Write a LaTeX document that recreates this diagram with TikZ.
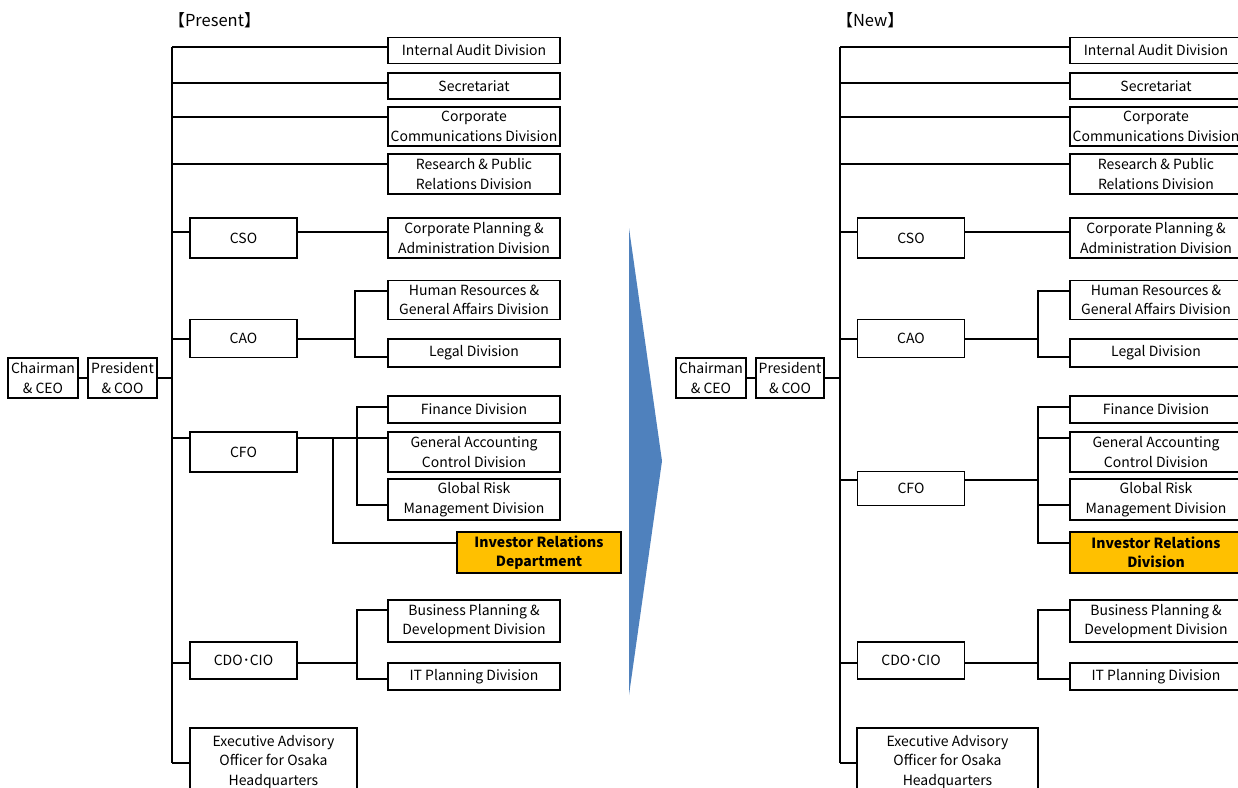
\documentclass[tikz,border=0pt]{standalone}
\usepackage{fontspec}
\setmainfont{Noto Sans CJK JP}
\usepackage{tikz}
\usetikzlibrary{positioning}
\definecolor{myblue}{RGB}{79,129,189}
\definecolor{myorange}{RGB}{255,192,0}

\begin{document}
\begin{tikzpicture}[x=1pt,y=-1pt,
    box/.style={draw,line width=1.3pt,align=center,inner sep=0pt,font=\fontsize{14}{19.5}\selectfont},
    divbox/.style={box,minimum width=172pt},
    headbox/.style={box,minimum width=107pt},
    irbox/.style={box,line width=2.2pt,fill=myorange,font=\fontsize{14}{19.5}\selectfont\bfseries},
    link/.style={line width=1.3pt}]
    \useasboundingbox (0,0) rectangle (1238,787);

    % Present
    \node[anchor=west,font=\fontsize{16.5}{19}\selectfont] (title_l) at (165,20) {【Present】};
    \node[box,minimum width=70pt,minimum height=40pt] (chair_l) at (43,378) {Chairman\\\& CEO};
    \node[box,minimum width=69pt,minimum height=40pt] (pres_l) at (122.5,378) {President\\\& COO};

    % staff divisions
    \node[divbox,minimum height=26pt] (ia_l) at (474,50.5) {Internal Audit Division};
    \node[divbox,minimum height=26pt] (sec_l) at (474,86) {Secretariat};
    \node[divbox,minimum height=39pt] (cc_l) at (474,126.5) {Corporate\\Communications Division};
    \node[divbox,minimum height=40pt] (rp_l) at (474,174) {Research \& Public\\Relations Division};

    % officers
    \node[headbox,minimum height=40pt] (cso_l) at (243.5,238) {CSO};
    \node[headbox,minimum height=38pt] (cao_l) at (243.5,338.5) {CAO};
    \node[headbox,minimum height=40pt] (cfo_l) at (243.5,452) {CFO};
    \node[headbox,minimum height=37pt] (cdo_l) at (243.5,660.5) {CDO･CIO};
    \node[box,minimum width=167pt,minimum height=68pt] (ea_l) at (273.5,762) {Executive Advisory\\Officer for Osaka\\Headquarters};

    % line divisions
    \node[divbox,minimum height=40pt] (cp_l) at (474,238) {Corporate Planning \&\\Administration Division};
    \node[divbox,minimum height=39pt] (hr_l) at (474,300) {Human Resources \&\\General Affairs Division};
    \node[divbox,minimum height=28pt] (legal_l) at (474,353) {Legal Division};
    \node[divbox,minimum height=27pt] (fin_l) at (474,409.5) {Finance Division};
    \node[divbox,minimum height=40pt] (ga_l) at (474,452) {General Accounting\\Control Division};
    \node[divbox,minimum height=41pt] (gr_l) at (474,499.5) {Global Risk\\Management Division};
    \node[irbox,minimum width=164pt,minimum height=41pt] (ir_l) at (539,552.5) {Investor Relations\\Department};
    \node[divbox,minimum height=42pt] (bp_l) at (474,621) {Business Planning \&\\Development Division};
    \node[divbox,minimum height=27pt] (it_l) at (474,676.5) {IT Planning Division};

    % trunk
    \foreach \n/\y in {ia/47,sec/83,cc/117,rp/164,cso/232,cao/339,cfo/438,cdo/663,ea/763}
        \coordinate (t_\n_l) at (172,\y);
    \draw[link] (t_ia_l) -- (t_ea_l);
    \draw[link] (chair_l) -- (pres_l);
    \draw[link] (pres_l.east) -- (pres_l.east -| t_ia_l);
    \foreach \n in {ia,sec,cc,rp,cso,cao,cfo,cdo,ea}
        \draw[link] (t_\n_l) -- (t_\n_l -| \n_l.west);

    % branches
    \coordinate (s_hr_l) at (355,291);
    \coordinate (s_legal_l) at (355,357);
    \coordinate (s_fin_l) at (357,407);
    \coordinate (s_gr_l) at (357,505);
    \coordinate (s_ir_l) at (333,543);
    \coordinate (s_bp_l) at (357,610);
    \coordinate (s_it_l) at (357,679);
    \draw[link] (t_cso_l -| cso_l.east) -- (t_cso_l -| cp_l.west);
    \draw[link] (t_cao_l -| cao_l.east) -- (t_cao_l -| s_hr_l);
    \draw[link] (s_hr_l -| hr_l.west) -- (s_hr_l) -- (s_legal_l) -- (s_legal_l -| legal_l.west);
    \draw[link] (t_cfo_l -| cfo_l.east) -- (t_cfo_l -| ga_l.west);
    \draw[link] (s_fin_l -| fin_l.west) -- (s_fin_l) -- (s_gr_l) -- (s_gr_l -| gr_l.west);
    \draw[link] (t_cfo_l -| s_ir_l) -- (s_ir_l) -- (s_ir_l -| ir_l.west);
    \draw[link] (t_cdo_l -| cdo_l.east) -- (t_cdo_l -| s_bp_l);
    \draw[link] (s_bp_l -| bp_l.west) -- (s_bp_l) -- (s_it_l) -- (s_it_l -| it_l.west);

    % Arrow
    \fill[myblue] (629,228) -- (662,461) -- (629,695) -- cycle;

    % New
    \node[anchor=west,font=\fontsize{16.5}{19}\selectfont] (title_r) at (833,20) {【New】};
    \node[box,minimum width=70pt,minimum height=40pt] (chair_r) at (711,378) {Chairman\\\& CEO};
    \node[box,minimum width=68pt,minimum height=40pt] (pres_r) at (790,378) {President\\\& COO};

    % staff divisions
    \node[divbox,minimum height=26pt] (ia_r) at (1156,50.5) {Internal Audit Division};
    \node[divbox,minimum height=26pt] (sec_r) at (1156,86) {Secretariat};
    \node[divbox,minimum height=39pt] (cc_r) at (1156,126.5) {Corporate\\Communications Division};
    \node[divbox,minimum height=40pt] (rp_r) at (1156,174) {Research \& Public\\Relations Division};

    % officers
    \node[headbox,minimum height=40pt] (cso_r) at (911,238) {CSO};
    \node[headbox,minimum height=38pt] (cao_r) at (911,338.5) {CAO};
    \node[headbox,minimum height=34pt] (cfo_r) at (911,488.5) {CFO};
    \node[headbox,minimum height=37pt] (cdo_r) at (911,660.5) {CDO･CIO};
    \node[box,minimum width=181pt,minimum height=68pt] (ea_r) at (947.5,762) {Executive Advisory\\Officer for Osaka\\Headquarters};

    % line divisions
    \node[divbox,minimum height=40pt] (cp_r) at (1156,238) {Corporate Planning \&\\Administration Division};
    \node[divbox,minimum height=39pt] (hr_r) at (1156,300) {Human Resources \&\\General Affairs Division};
    \node[divbox,minimum height=28pt] (legal_r) at (1156,353) {Legal Division};
    \node[divbox,minimum height=27pt] (fin_r) at (1156,409.5) {Finance Division};
    \node[divbox,minimum height=40pt] (ga_r) at (1156,452) {General Accounting\\Control Division};
    \node[divbox,minimum height=41pt] (gr_r) at (1156,499.5) {Global Risk\\Management Division};
    \node[irbox,minimum width=172pt,minimum height=41pt] (ir_r) at (1156,552.5) {Investor Relations\\Division};
    \node[divbox,minimum height=42pt] (bp_r) at (1156,621) {Business Planning \&\\Development Division};
    \node[divbox,minimum height=27pt] (it_r) at (1156,676.5) {IT Planning Division};

    % trunk
    \foreach \n/\y in {ia/47,sec/83,cc/117,rp/164,cso/232,cao/339,cfo/480,cdo/663,ea/763}
        \coordinate (t_\n_r) at (840,\y);
    \draw[link] (t_ia_r) -- (t_ea_r);
    \draw[link] (chair_r) -- (pres_r);
    \draw[link] (pres_r.east) -- (pres_r.east -| t_ia_r);
    \foreach \n in {ia,sec,cc,rp,cso,cao,cfo,cdo,ea}
        \draw[link] (t_\n_r) -- (t_\n_r -| \n_r.west);

    % branches
    \coordinate (s_hr_r) at (1038,291);
    \coordinate (s_legal_r) at (1038,357);
    \coordinate (s_fin_r) at (1038,407);
    \coordinate (s_ga_r) at (1038,438);
    \coordinate (s_gr_r) at (1038,505);
    \coordinate (s_ir_r) at (1038,543);
    \coordinate (s_bp_r) at (1038,610);
    \coordinate (s_it_r) at (1038,679);
    \draw[link] (t_cso_r -| cso_r.east) -- (t_cso_r -| cp_r.west);
    \draw[link] (t_cao_r -| cao_r.east) -- (t_cao_r -| s_hr_r);
    \draw[link] (s_hr_r -| hr_r.west) -- (s_hr_r) -- (s_legal_r) -- (s_legal_r -| legal_r.west);
    \draw[link] (t_cfo_r -| cfo_r.east) -- (t_cfo_r -| s_fin_r);
    \draw[link] (s_fin_r -| fin_r.west) -- (s_fin_r) -- (s_ir_r) -- (s_ir_r -| ir_r.west);
    \draw[link] (s_ga_r) -- (s_ga_r -| ga_r.west);
    \draw[link] (s_gr_r) -- (s_gr_r -| gr_r.west);
    \draw[link] (t_cdo_r -| cdo_r.east) -- (t_cdo_r -| s_bp_r);
    \draw[link] (s_bp_r -| bp_r.west) -- (s_bp_r) -- (s_it_r) -- (s_it_r -| it_r.west);
\end{tikzpicture}
\end{document}
